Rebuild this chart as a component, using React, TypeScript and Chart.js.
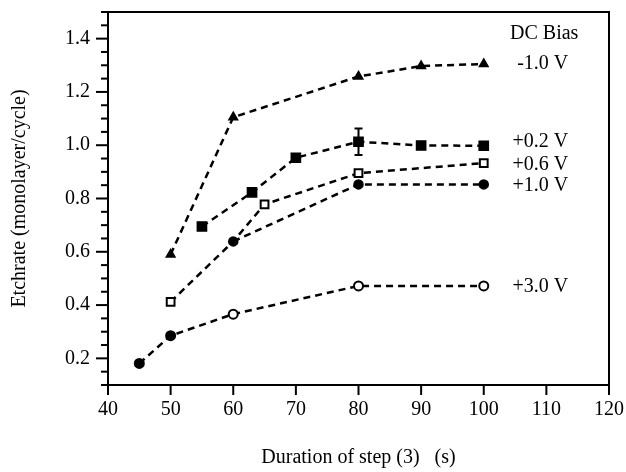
import React, { useEffect, useRef } from "react";
import { Chart, registerables } from "chart.js";

Chart.register(...registerables);

// ---- data ----
const xM10 = [50, 60, 80, 90, 100];
const yM10 = [0.59, 1.105, 1.258, 1.297, 1.305];

const xP02 = [55, 63, 70, 80, 90, 100];
const yP02 = [0.695, 0.823, 0.953, 1.013, 0.999, 0.998];
const errP02 = [0, 0, 0, 0.05, 0, 0];

const xP06 = [50, 60, 65, 80, 100];
const yP06 = [0.412, 0.639, 0.778, 0.895, 0.933];

const xP10 = [60, 80, 100];
const yP10 = [0.639, 0.853, 0.853];

const xP30 = [45, 50, 60, 80, 100];
const yP30 = [0.181, 0.285, 0.366, 0.472, 0.472];

const biasLabels = ["-1.0 V", "+0.2 V", "+0.6 V", "+1.0 V", "+3.0 V"];
const biasLabelY = [1.305, 1.012, 0.926, 0.848, 0.468];
const biasLabelX = 113.5;
const legendTitle = "DC Bias";
const legendTitlePos = [104.2, 1.418];

const xMin = 40, xMax = 120, xStep = 10;
const yMin = 0.1, yMax = 1.5, yMinorStep = 0.05, yMajorStep = 0.2;

const FONT = '"Liberation Serif", "Times New Roman", serif';

const pts = (xs: number[], ys: number[]) => xs.map((x, i) => ({ x, y: ys[i] }));
const isMajor = (v: number) => Math.abs(v / yMajorStep - Math.round(v / yMajorStep)) < 1e-6;

const decorPlugin = {
  id: "decor",
  afterDraw(chart: any) {
    const { ctx, chartArea: a, scales } = chart;
    const x = scales.x, y = scales.y;
    ctx.save();
    ctx.strokeStyle = "#000";
    ctx.lineWidth = 2;
    ctx.setLineDash([]);
    // frame
    ctx.strokeRect(a.left, a.top, a.right - a.left, a.bottom - a.top);
    // y ticks
    y.ticks.forEach((t: any) => {
      const py = y.getPixelForValue(t.value);
      const len = isMajor(t.value) ? 12 : 7;
      ctx.beginPath();
      ctx.moveTo(a.left, py);
      ctx.lineTo(a.left - len, py);
      ctx.stroke();
    });
    // x ticks
    x.ticks.forEach((t: any) => {
      const px = x.getPixelForValue(t.value);
      ctx.beginPath();
      ctx.moveTo(px, a.bottom);
      ctx.lineTo(px, a.bottom + 10);
      ctx.stroke();
    });
    // error bars (+0.2 V)
    errP02.forEach((e, i) => {
      if (!e) return;
      const px = x.getPixelForValue(xP02[i]);
      const top = y.getPixelForValue(yP02[i] + e);
      const bot = y.getPixelForValue(yP02[i] - e);
      ctx.beginPath();
      ctx.moveTo(px, top);
      ctx.lineTo(px, bot);
      ctx.moveTo(px - 4, top);
      ctx.lineTo(px + 4, top);
      ctx.moveTo(px - 4, bot);
      ctx.lineTo(px + 4, bot);
      ctx.stroke();
    });
    // labels
    ctx.fillStyle = "#000";
    ctx.font = `20px ${FONT}`;
    ctx.textBaseline = "middle";
    ctx.textAlign = "right";
    biasLabels.forEach((l, i) => {
      ctx.fillText(l, x.getPixelForValue(biasLabelX), y.getPixelForValue(biasLabelY[i]));
    });
    ctx.textAlign = "left";
    ctx.fillText(legendTitle, x.getPixelForValue(legendTitlePos[0]), y.getPixelForValue(legendTitlePos[1]));
    ctx.restore();
  },
};

export default function App() {
  const ref = useRef<HTMLCanvasElement>(null);

  useEffect(() => {
    if (!ref.current) return;
    Chart.defaults.font.family = FONT;
    Chart.defaults.color = "#000";
    const dash = [7, 5];
    const common = {
      borderColor: "#000",
      borderWidth: 2.5,
      borderDash: dash,
      pointBorderColor: "#000",
      pointBorderWidth: 1.5,
      tension: 0,
      fill: false,
    };
    const chart = new Chart(ref.current, {
      type: "line",
      data: {
        datasets: [
          {
            ...common,
            label: biasLabels[0],
            data: pts(xM10, yM10),
            pointStyle: "triangle",
            pointRadius: 5,
            pointBackgroundColor: "#000",
          },
          {
            ...common,
            label: biasLabels[1],
            data: pts(xP02, yP02),
            pointStyle: "rect",
            pointRadius: 6.5,
            pointBackgroundColor: "#000",
          },
          {
            ...common,
            label: biasLabels[2],
            data: pts(xP06, yP06),
            pointStyle: "rect",
            pointRadius: xP06.map((_, i) => (i === 1 ? 0 : 5.5)),
            pointBorderWidth: 2,
            pointBackgroundColor: "#fff",
          },
          {
            ...common,
            label: biasLabels[3],
            data: pts(xP10, yP10),
            pointStyle: "circle",
            pointRadius: 4.5,
            pointBackgroundColor: "#000",
          },
          {
            ...common,
            label: biasLabels[4],
            data: pts(xP30, yP30),
            pointStyle: "circle",
            pointRadius: 4.5,
            pointBorderWidth: 2,
            pointBackgroundColor: xP30.map((_, i) => (i < 2 ? "#000" : "#fff")),
          },
        ],
      },
      options: {
        animation: false,
        responsive: true,
        maintainAspectRatio: false,
        layout: { padding: { left: 0, right: 17, top: 12, bottom: 0 } },
        plugins: { legend: { display: false }, tooltip: { enabled: false } },
        scales: {
          x: {
            type: "linear",
            min: xMin,
            max: xMax,
            border: { display: false },
            grid: { display: true, drawOnChartArea: false, drawTicks: true, tickLength: 10, color: "rgba(0,0,0,0)" },
            ticks: { stepSize: xStep, padding: 3, font: { size: 20, family: FONT }, color: "#000", maxRotation: 0 },
            title: {
              display: true,
              text: "Duration of step (3)   (s)",
              font: { size: 20, family: FONT },
              color: "#000",
              padding: { top: 0, bottom: 2 },
            },
            afterFit: (s: any) => {
              s.height = 87;
              s.paddingLeft = 0;
              s.paddingRight = 0;
            },
          },
          y: {
            type: "linear",
            min: yMin,
            max: yMax,
            border: { display: false },
            grid: { display: true, drawOnChartArea: false, drawTicks: true, tickLength: 12, color: "rgba(0,0,0,0)" },
            ticks: {
              stepSize: yMinorStep,
              autoSkip: false,
              padding: 6,
              font: { size: 20, family: FONT },
              color: "#000",
              callback: (v: any) => (isMajor(Number(v)) ? Number(v).toFixed(1) : ""),
            },
            title: {
              display: true,
              text: "Etchrate (monolayer/cycle)",
              font: { size: 20, family: FONT },
              color: "#000",
              padding: { top: 8, bottom: 0 },
            },
            afterFit: (s: any) => {
              s.width = 108;
              s.paddingTop = 0;
              s.paddingBottom = 0;
            },
          },
        },
      },
      plugins: [decorPlugin],
    });
    return () => chart.destroy();
  }, []);

  return (
    <div style={{ position: "fixed", left: 0, top: 0, width: 626, height: 472, background: "#fff" }}>
      <canvas ref={ref} />
    </div>
  );
}
